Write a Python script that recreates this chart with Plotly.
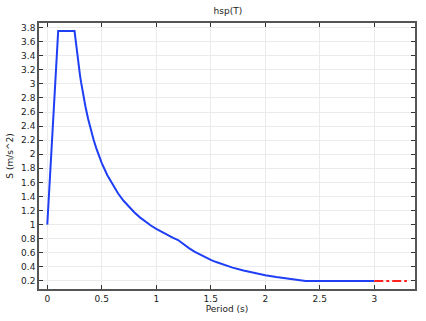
import plotly.graph_objects as go

period = [0, 0.1, 0.25, 0.26, 0.27, 0.28, 0.29, 0.3, 0.31, 0.32, 0.33, 0.34, 0.35, 0.375,
          0.4, 0.425, 0.45, 0.475, 0.5, 0.55, 0.6, 0.65, 0.7, 0.75, 0.8, 0.85, 0.9, 0.95,
          1.0, 1.05, 1.1, 1.15, 1.2, 1.25, 1.3, 1.35, 1.4, 1.45, 1.5, 1.55, 1.6, 1.7, 1.8,
          1.9, 2.0, 2.1, 2.2, 2.3, 2.37, 2.5, 2.75, 3.0]
spectrum = [1.0, 3.75, 3.75, 3.606, 3.472, 3.348, 3.233, 3.125, 3.024, 2.930, 2.841, 2.757,
            2.679, 2.5, 2.344, 2.206, 2.083, 1.974, 1.875, 1.705, 1.563, 1.442, 1.339, 1.25,
            1.172, 1.103, 1.042, 0.987, 0.938, 0.893, 0.852, 0.815, 0.781, 0.720, 0.666,
            0.617, 0.574, 0.535, 0.5, 0.468, 0.439, 0.389, 0.347, 0.312, 0.281, 0.255, 0.232,
            0.213, 0.2, 0.2, 0.2, 0.2]
ext_period = [3.0, 3.3]
ext_spectrum = [0.2, 0.2]

x_ticks = [0, 0.5, 1, 1.5, 2, 2.5, 3]
y_ticks = [0.2, 0.4, 0.6, 0.8, 1, 1.2, 1.4, 1.6, 1.8, 2, 2.2, 2.4, 2.6, 2.8, 3, 3.2, 3.4, 3.6, 3.8]

fig = go.Figure()
fig.add_trace(go.Scatter(x=period, y=spectrum, mode="lines",
                         line=dict(color="#1f3ff5", width=2), showlegend=False))
fig.add_trace(go.Scatter(x=ext_period, y=ext_spectrum, mode="lines",
                         line=dict(color="#ff2020", width=2, dash="dashdot"), showlegend=False))

font = dict(family="DejaVu Sans", size=9, color="#222")
fig.update_layout(
    width=426, height=321,
    margin=dict(l=39, r=9, t=23, b=25),
    paper_bgcolor="white", plot_bgcolor="white",
    font=font,
    title=dict(text="hsp(T)", x=0.535, xanchor="center", y=0.965, yanchor="middle",
               font=dict(family="DejaVu Sans", size=9, color="#222")),
    xaxis=dict(range=[-0.076, 3.374], tickvals=x_ticks, ticktext=[str(v) for v in x_ticks],
               ticks="inside", ticklen=4, tickcolor="#333", mirror="ticks",
               showline=True, linecolor="#555", linewidth=1.5,
               showgrid=True, gridcolor="#ebebeb", gridwidth=1, zeroline=False,
               title=dict(text="Period (s)", standoff=2, font=font)),
    yaxis=dict(range=[0.085, 3.865], tickvals=y_ticks,
               ticktext=["%g" % v for v in y_ticks],
               ticks="inside", ticklen=4, tickcolor="#333", mirror="ticks",
               showline=True, linecolor="#555", linewidth=1.5,
               showgrid=True, gridcolor="#ebebeb", gridwidth=1, zeroline=False,
               title=dict(text="S (m/s^2)", standoff=6, font=font)),
)
fig.write_html("out.html")
